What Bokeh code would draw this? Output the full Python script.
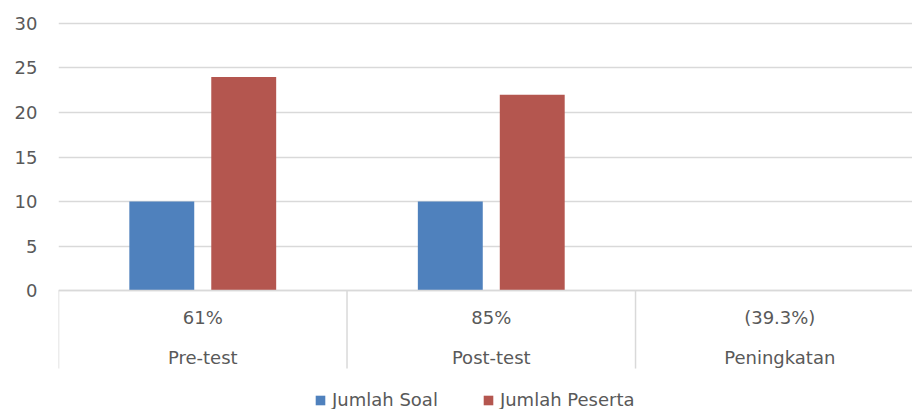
import numpy as np
from bokeh.plotting import figure
from bokeh.models import Range1d, FixedTicker, Legend, LegendItem
from bokeh.core.properties import value
from bokeh.embed import file_html
from bokeh.resources import INLINE

# ---- data ----
categories = ["Pre-test", "Post-test", "Peningkatan"]
pct_labels = ["61%", "85%", "(39.3%)"]
jumlah_soal = [10, 10, np.nan]
jumlah_peserta = [24, 22, np.nan]
y_ticks = [0, 5, 10, 15, 20, 25, 30]

# ---- style ----
BLUE = "#4F81BD"
RED = "#B4564F"
GRID = "#D9D9D9"
TEXT = "#595959"
FONT = "DejaVu Sans"
FS = "18px"

n = len(categories)
centers = np.arange(n) + 0.5
bar_w = 0.225
offset = 0.142

p = figure(width=912, height=409, x_range=Range1d(0, 2.96), y_range=Range1d(-13.35, 31.12),
           output_backend="svg", toolbar_location=None, x_axis_location=None,
           min_border_left=58, min_border_right=0, min_border_top=13, min_border_bottom=0)
p.outline_line_color = None
p.background_fill_color = "white"

p.xgrid.visible = False
p.ygrid.ticker = FixedTicker(ticks=y_ticks)
p.ygrid.grid_line_color = GRID
p.ygrid.grid_line_width = 1.3

ax = p.yaxis[0]
ax.ticker = FixedTicker(ticks=y_ticks)
ax.axis_line_color = None
ax.major_tick_line_color = None
ax.minor_tick_line_color = None
ax.major_tick_out = 0
ax.major_tick_in = 0
ax.major_label_standoff = 21
ax.major_label_text_font = FONT
ax.major_label_text_font_size = FS
ax.major_label_text_color = TEXT

r1 = p.vbar(x=centers - offset, top=jumlah_soal, bottom=0, width=bar_w,
            fill_color=BLUE, line_color=None)
r2 = p.vbar(x=centers + offset, top=jumlah_peserta, bottom=0, width=bar_w,
            fill_color=RED, line_color=None)

# category axis: baseline and dividers
edges = np.arange(n + 1)
p.segment(x0=[0], y0=[0], x1=[n], y1=[0], line_color=GRID, line_width=1.5)
p.segment(x0=edges, y0=0, x1=edges, y1=-8.75, line_color=GRID, line_width=1.5)

p.text(x=centers, y=-3.03, text=pct_labels, text_align="center", text_baseline="middle",
       text_font=value(FONT), text_font_size=FS, text_color=TEXT)
p.text(x=centers, y=-7.52, text=categories, text_align="center", text_baseline="middle",
       text_font=value(FONT), text_font_size=FS, text_color=TEXT)

legend = Legend(items=[LegendItem(label="Jumlah Soal", renderers=[r1]),
                       LegendItem(label="Jumlah Peserta", renderers=[r2])],
                orientation="horizontal", location=(256, -1),
                border_line_color=None, background_fill_alpha=0,
                glyph_width=12, glyph_height=12, label_standoff=6, spacing=44,
                padding=0, margin=0, label_text_font=FONT, label_height=20,
                label_text_font_size=FS, label_text_color=TEXT)
p.add_layout(legend)

open("out.html", "w").write(file_html(p, INLINE))
